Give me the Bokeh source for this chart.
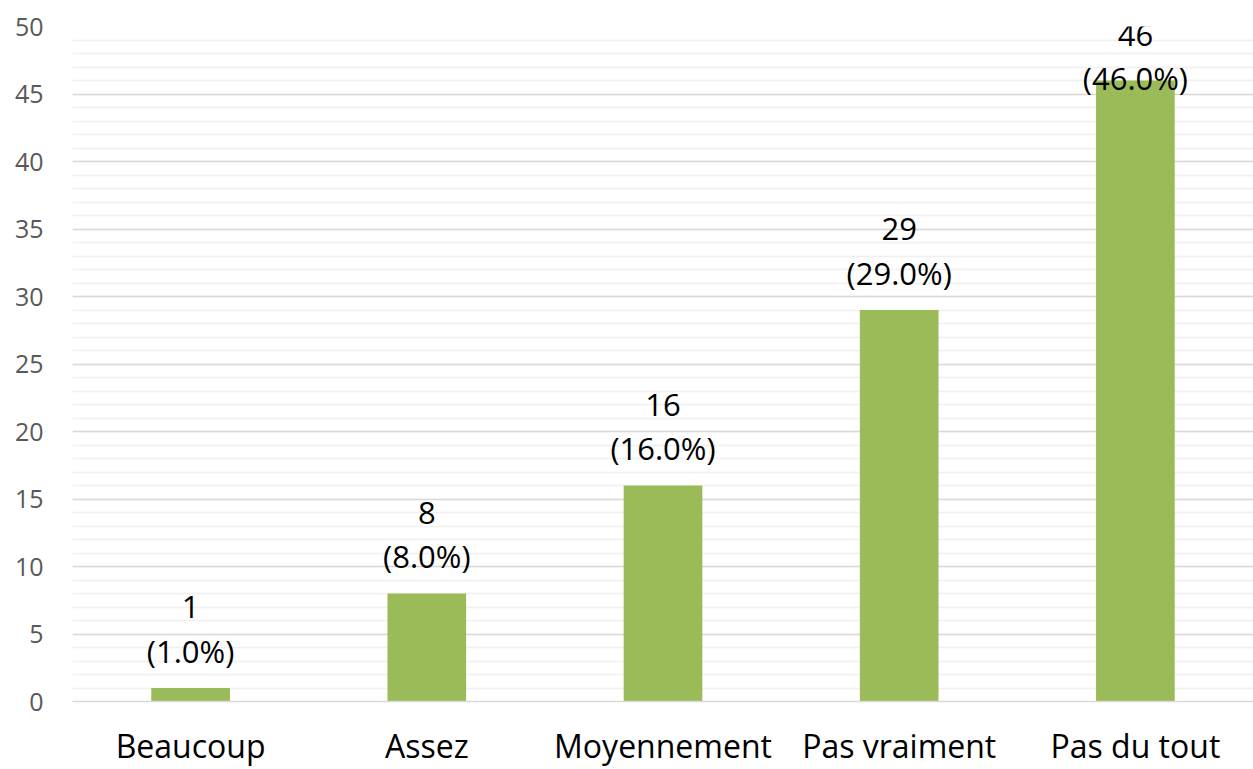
from bokeh.plotting import figure
from bokeh.models import ColumnDataSource, SingleIntervalTicker, Range1d, FactorRange
from bokeh.core.properties import value
from bokeh.embed import file_html
from bokeh.resources import INLINE

categories = ["Beaucoup", "Assez", "Moyennement", "Pas vraiment", "Pas du tout"]
counts = [1, 8, 16, 29, 46]
percents = [1.0, 8.0, 16.0, 29.0, 46.0]

y_max = 50
count_labels = [str(c) for c in counts]
pct_labels = ["(%.1f%%)" % p for p in percents]
y_line1 = [min(c + 6.0, y_max - 0.6) for c in counts]
y_line2 = [y - 3.25 for y in y_line1]

src = ColumnDataSource(dict(cat=categories, count=counts, l1=count_labels, l2=pct_labels,
                            y1=y_line1, y2=y_line2))

p = figure(x_range=FactorRange(*categories), y_range=Range1d(0, y_max),
           width=1253, height=769, output_backend="svg", toolbar_location=None,
           min_border_left=72, min_border_right=0, min_border_top=26, min_border_bottom=67)

p.vbar(x="cat", top="count", width=0.333, source=src, color="#9BBB59", line_color=None)

font = value("Open Sans")
p.text(x="cat", y="y1", text="l1", source=src, text_align="center", text_baseline="middle",
       text_font=font, text_font_size="31px", text_color="#000000")
p.text(x="cat", y="y2", text="l2", source=src, text_align="center", text_baseline="middle",
       text_font=font, text_font_size="31px", text_color="#000000")

p.outline_line_color = None
p.background_fill_color = "white"
p.border_fill_color = "white"

p.yaxis.ticker = SingleIntervalTicker(interval=5, num_minor_ticks=5)
p.ygrid.grid_line_color = "#d9d9d9"
p.ygrid.grid_line_width = 1.5
p.ygrid.minor_grid_line_color = "#f0f0f0"
p.ygrid.minor_grid_line_width = 1.5
p.xgrid.grid_line_color = None

p.yaxis.axis_line_color = None
p.yaxis.major_tick_line_color = None
p.yaxis.minor_tick_line_color = None
p.yaxis.major_tick_out = 0
p.yaxis.major_tick_in = 0
p.yaxis.minor_tick_out = 0
p.yaxis.major_label_text_font = "Open Sans"
p.yaxis.major_label_text_font_size = "25px"
p.yaxis.major_label_text_color = "#595959"
p.yaxis.major_label_standoff = 29

p.xaxis.axis_line_color = "#d9d9d9"
p.xaxis.axis_line_width = 1.5
p.xaxis.major_tick_line_color = None
p.xaxis.minor_tick_line_color = None
p.xaxis.major_tick_out = 0
p.xaxis.major_tick_in = 0
p.xaxis.major_label_text_font = "Open Sans"
p.xaxis.major_label_text_font_size = "32px"
p.xaxis.major_label_text_color = "#000000"
p.xaxis.major_label_standoff = 22

open("out.html", "w").write(file_html(p, INLINE))
